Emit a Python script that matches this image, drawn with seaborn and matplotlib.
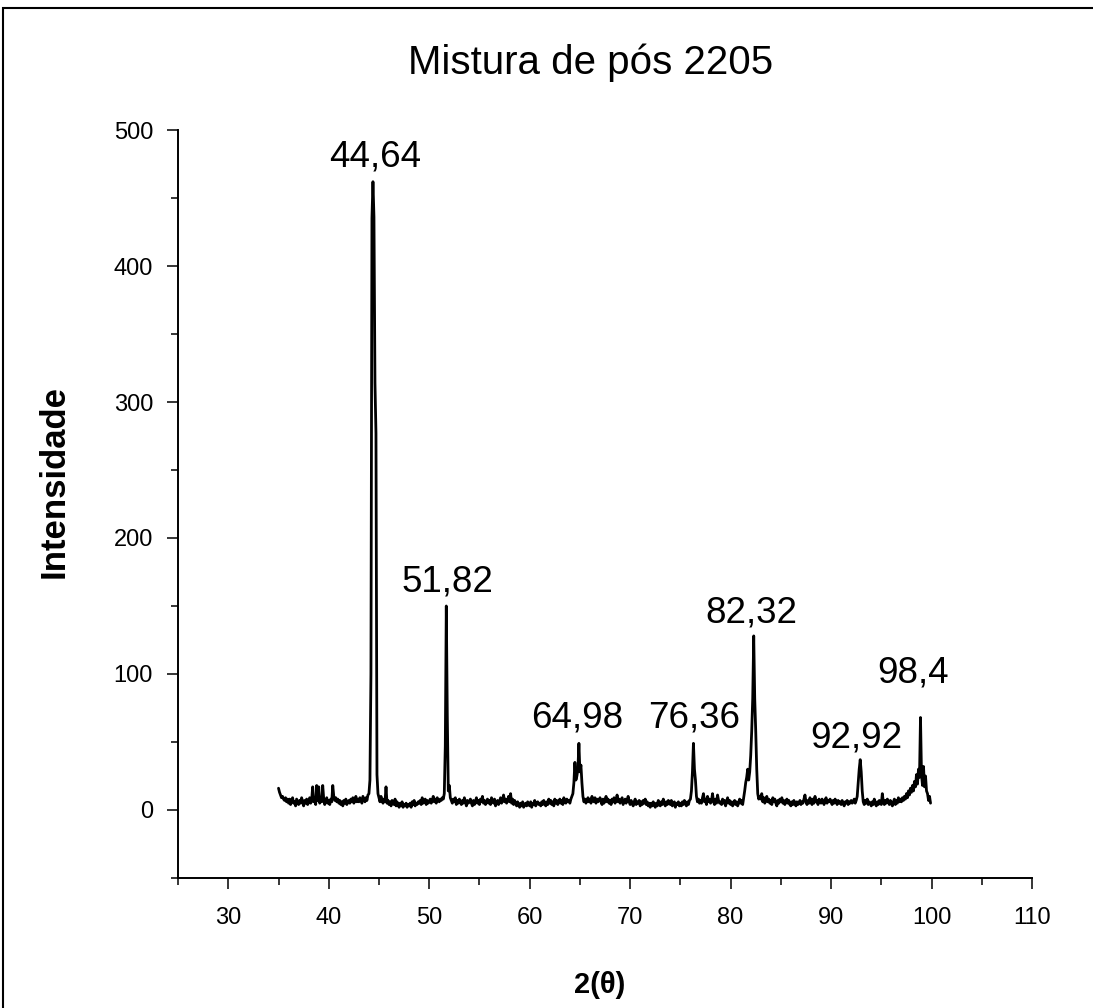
import numpy as np
import pandas as pd
import seaborn as sns
import matplotlib.pyplot as plt
from matplotlib.patches import Rectangle
from matplotlib.ticker import MultipleLocator

# ── Scan settings (2θ from 35.0 to 99.9, step 0.1) ──────────────────────────
SCAN_START = 35.0
SCAN_STEP = 0.1

# ── Intensities, one row per degree of 2θ ───────────────────────────────────
intensity = [
    16, 13, 11, 9, 10, 8, 7, 9, 6, 8,          # 35
    5, 8, 4, 7, 9, 5, 6, 3, 8, 6,              # 36
    4, 7, 5, 9, 6, 3, 7, 5, 8, 4,              # 37
    6, 9, 5, 7, 17, 6, 8, 4, 18, 7,            # 38
    17, 5, 9, 6, 18, 8, 4, 7, 9, 5,            # 39
    7, 4, 8, 6, 18, 10, 7, 9, 6, 8,            # 40
    5, 7, 4, 6, 3, 7, 5, 8, 4, 6,              # 41
    7, 5, 8, 6, 9, 5, 7, 10, 6, 8,             # 42
    6, 9, 7, 5, 10, 8, 6, 9, 7, 11,            # 43
    12, 22, 100, 435, 462, 436, 314, 277, 26, 12,  # 44
    9, 6, 10, 7, 5, 8, 6, 17, 5, 7,            # 45
    4, 6, 3, 7, 5, 4, 8, 3, 6, 4,              # 46
    2, 5, 3, 6, 2, 4, 3, 5, 2, 4,              # 47
    3, 5, 2, 6, 4, 7, 3, 5, 4, 6,              # 48
    5, 7, 4, 9, 5, 6, 8, 4, 7, 5,              # 49
    6, 8, 5, 7, 10, 6, 8, 5, 9, 7,             # 50
    6, 8, 7, 9, 8, 12, 47, 150, 69, 14,        # 51
    18, 9, 7, 5, 8, 6, 9, 4, 7, 5,             # 52
    8, 6, 4, 7, 5, 9, 6, 3, 7, 5,              # 53
    6, 8, 5, 3, 7, 4, 6, 9, 5, 7,              # 54
    4, 8, 6, 10, 5, 7, 4, 6, 8, 5,             # 55
    7, 4, 9, 6, 5, 8, 3, 6, 7, 4,              # 56
    6, 9, 5, 7, 11, 6, 8, 5, 7, 10,            # 57
    6, 12, 5, 8, 4, 7, 5, 3, 6, 4,             # 58
    2, 5, 3, 6, 2, 4, 5, 3, 6, 4,              # 59
    3, 6, 2, 5, 4, 7, 3, 5, 6, 4,              # 60
    5, 3, 6, 4, 7, 5, 3, 6, 4, 8,              # 61
    5, 7, 4, 6, 3, 8, 5, 7, 4, 6,              # 62
    8, 5, 7, 4, 9, 6, 5, 8, 6, 7,              # 63
    5, 8, 10, 12, 20, 35, 22, 25, 30, 49,      # 64
    28, 33, 20, 10, 6, 8, 5, 7, 9, 6,          # 65
    8, 5, 10, 7, 6, 9, 5, 8, 6, 7,             # 66
    9, 6, 4, 8, 5, 7, 10, 6, 8, 5,             # 67
    7, 4, 8, 6, 9, 5, 7, 11, 6, 8,             # 68
    5, 7, 9, 4, 6, 8, 5, 7, 10, 6,             # 69
    4, 7, 5, 3, 6, 8, 4, 6, 5, 7,              # 70
    3, 6, 4, 7, 5, 8, 4, 6, 3, 5,              # 71
    2, 5, 3, 6, 4, 2, 5, 3, 7, 4,              # 72
    3, 6, 4, 8, 5, 3, 6, 4, 7, 5,              # 73
    4, 7, 3, 5, 6, 2, 5, 4, 6, 3,              # 74
    5, 3, 6, 4, 7, 5, 3, 6, 4, 7,              # 75
    8, 14, 28, 49, 30, 22, 10, 6, 8, 5,        # 76
    7, 5, 9, 12, 6, 8, 4, 10, 6, 8,            # 77
    5, 7, 12, 6, 4, 8, 5, 11, 7, 5,            # 78
    6, 4, 8, 5, 7, 3, 6, 9, 5, 7,              # 79
    4, 6, 3, 5, 7, 4, 6, 3, 5, 8,              # 80
    5, 7, 4, 9, 14, 20, 24, 30, 22, 28,        # 81
    40, 58, 82, 128, 82, 58, 30, 12, 8, 10,    # 82
    8, 12, 6, 9, 5, 7, 10, 6, 8, 5,            # 83
    7, 4, 9, 6, 8, 5, 3, 7, 5, 8,              # 84
    6, 9, 5, 7, 4, 6, 8, 5, 7, 4,              # 85
    3, 6, 4, 7, 5, 3, 6, 4, 5, 7,              # 86
    4, 6, 5, 8, 11, 6, 4, 7, 5, 9,             # 87
    6, 4, 8, 5, 10, 6, 7, 4, 8, 6,             # 88
    5, 8, 6, 4, 7, 9, 5, 7, 6, 8,              # 89
    6, 4, 7, 5, 8, 6, 4, 7, 5, 6,              # 90
    4, 7, 5, 3, 6, 5, 7, 4, 6, 5,              # 91
    7, 5, 6, 8, 5, 7, 10, 20, 30, 37,          # 92
    28, 14, 6, 4, 7, 5, 8, 4, 6, 5,            # 93
    3, 6, 4, 8, 5, 3, 6, 4, 7, 5,              # 94
    4, 12, 6, 4, 7, 5, 8, 6, 4, 7,             # 95
    5, 3, 6, 8, 4, 7, 5, 9, 6, 8,              # 96
    6, 9, 7, 10, 8, 12, 9, 14, 11, 16,         # 97
    13, 18, 14, 21, 17, 26, 19, 30, 24, 68,    # 98
    26, 18, 32, 17, 25, 14, 12, 7, 10, 5,      # 99
]

# ── Peak labels ──────────────────────────────────────────────────────────────
peak_labels = ["44,64", "51,82", "64,98", "76,36", "82,32", "92,92", "98,4"]
label_x = [44.6, 51.8, 64.7, 76.4, 82.1, 92.55, 98.2]
label_y = [480, 168, 68, 68, 145, 53, 101]

two_theta = np.round(SCAN_START + SCAN_STEP * np.arange(len(intensity)), 1)
df = pd.DataFrame({"2theta": two_theta, "I": intensity})

sns.set_style("ticks")
plt.rcParams["font.family"] = ["Liberation Sans", "DejaVu Sans"]
plt.rcParams["text.color"] = "black"
plt.rcParams["axes.labelcolor"] = "black"
plt.rcParams["xtick.color"] = "black"
plt.rcParams["ytick.color"] = "black"
plt.rcParams["axes.edgecolor"] = "black"

fig = plt.figure(figsize=(10.93, 10.08), dpi=100)
ax = fig.add_axes([0.1629, 0.129, 0.7813, 0.742])

sns.lineplot(data=df, x="2theta", y="I", ax=ax, color="black", lw=2.0,
             estimator=None, sort=False)

for txt, lx, ly in zip(peak_labels, label_x, label_y):
    ax.text(lx, ly, txt, ha="center", va="center", fontsize=26.5, color="black")

ax.set_xlim(25, 110)
ax.set_ylim(-50, 500)
ax.xaxis.set_minor_locator(MultipleLocator(5))
ax.yaxis.set_minor_locator(MultipleLocator(50))
ax.set_xticks(np.arange(30, 111, 10))
ax.set_yticks(np.arange(0, 501, 100))

sns.despine(ax=ax)
for side in ["left", "bottom"]:
    ax.spines[side].set_linewidth(1.4)
ax.tick_params(which="major", direction="out", length=8, width=1.1,
               labelsize=17)
ax.tick_params(which="minor", direction="out", length=5, width=1.1)
ax.tick_params(axis="x", which="major", pad=13)
ax.tick_params(axis="y", which="major", pad=10)

ax.set_xlabel("2(θ)", fontsize=21, fontweight="bold")
ax.xaxis.set_label_coords(0.494, -0.124)
ax.set_ylabel("Intensidade", fontsize=25, fontweight="bold")
ax.yaxis.set_label_coords(-0.126, 0.53)
fig.text(0.54, 0.938, "Mistura de pós 2205", ha="center", va="center",
         fontsize=29)

# outer frame
fig.patches.append(Rectangle((0.0027, -0.1), 1.2, 1.092, transform=fig.transFigure,
                             fill=False, lw=1.5, edgecolor="black"))

fig.savefig("out.png", dpi=100)
